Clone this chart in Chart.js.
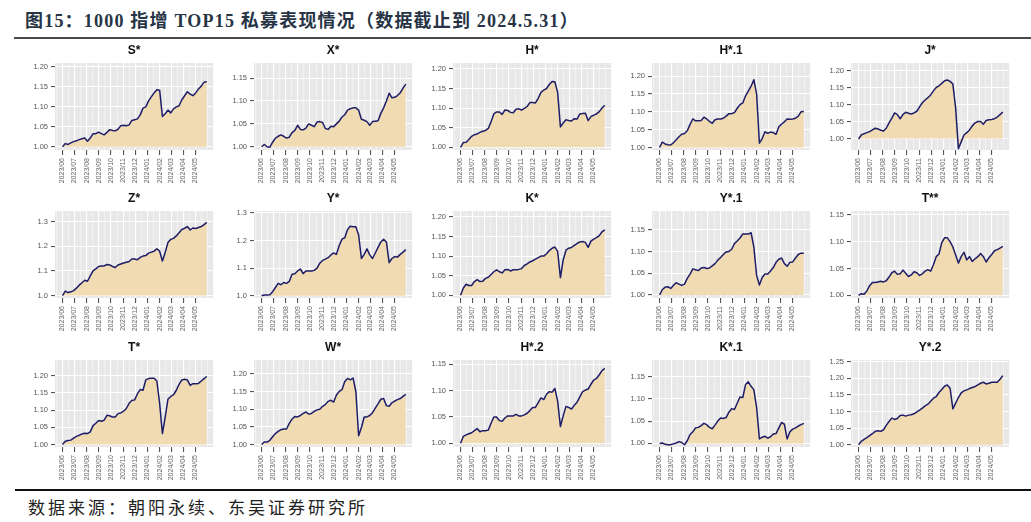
<!DOCTYPE html>
<html>
<head>
<meta charset="utf-8">
<script src="https://cdn.jsdelivr.net/npm/chart.js@4.4.1/dist/chart.umd.min.js"></script>
<style>
body { margin: 0; width: 1031px; height: 522px; background: #fff; position: relative; overflow: hidden; }
#title { position: absolute; left: 25px; top: 6px; font: bold 18px "Liberation Serif", "Noto Sans CJK SC"; color: #263445; white-space: nowrap; letter-spacing: 1.2px; }
#topline { position: absolute; left: 14px; right: 0; top: 37px; height: 2px; background: #4a4a4a; }
#bottomline { position: absolute; left: 15px; right: 0; top: 489px; height: 2px; background: #111; }
#source { position: absolute; left: 28px; top: 494px; font: 17px "Noto Sans CJK SC"; color: #222; letter-spacing: 3px; white-space: nowrap; }
canvas { position: absolute; }
</style>
</head>
<body>
<div id="title">图15：1000 指增 TOP15 私募表现情况（数据截止到 2024.5.31）</div>
<div id="topline"></div>
<div id="grid"></div>
<div id="bottomline"></div>
<div id="source">数据来源：朝阳永续、东吴证券研究所</div>
<script>
// weekly observations, day offset from 2023-06-01
const weekDays = Array.from({length: 53}, (_, i) => i * 7);
const monthDays = [0, 30, 61, 92, 122, 153, 183, 214, 245, 274, 305, 335];
const monthLabels = ['2023/06', '2023/07', '2023/08', '2023/09', '2023/10', '2023/11',
                     '2023/12', '2024/01', '2024/02', '2024/03', '2024/04', '2024/05'];
const minorDays = [-15, 15, 45.5, 76.5, 107, 137.5, 168, 198.5, 229.5, 259.5, 289.5, 320, 350, 366];

const fundNames = ['S*', 'X*', 'H*', 'H*.1', 'J*', 'Z*', 'Y*', 'K*', 'Y*.1', 'T**', 'T*', 'W*', 'H*.2', 'K*.1', 'Y*.2'];

const sStar = [1.000,1.008,1.006,1.010,1.013,1.015,1.018,1.020,1.022,1.014,
               1.022,1.033,1.033,1.037,1.033,1.030,1.036,1.043,1.041,1.040,
               1.044,1.053,1.054,1.053,1.055,1.066,1.068,1.070,1.080,1.097,
               1.100,1.115,1.125,1.135,1.143,1.142,1.076,1.083,1.092,1.085,
               1.095,1.100,1.103,1.118,1.128,1.138,1.132,1.128,1.135,1.145,
               1.152,1.162,1.163];
const xStar = [1.000,1.005,1.000,0.999,1.010,1.019,1.023,1.026,1.023,1.019,
               1.021,1.031,1.036,1.047,1.038,1.037,1.041,1.050,1.047,1.044,
               1.054,1.055,1.053,1.040,1.038,1.045,1.044,1.050,1.056,1.065,
               1.070,1.080,1.083,1.085,1.085,1.080,1.060,1.058,1.055,1.047,
               1.055,1.056,1.057,1.073,1.085,1.100,1.117,1.107,1.108,1.112,
               1.118,1.128,1.137];
const hStar = [1.000,1.012,1.013,1.020,1.028,1.032,1.034,1.038,1.041,1.043,
               1.048,1.065,1.085,1.090,1.090,1.084,1.095,1.094,1.089,1.088,
               1.097,1.098,1.095,1.099,1.104,1.114,1.114,1.113,1.125,1.140,
               1.146,1.150,1.160,1.168,1.167,1.140,1.052,1.062,1.070,1.068,
               1.067,1.073,1.072,1.085,1.086,1.087,1.068,1.078,1.082,1.085,
               1.091,1.100,1.107];
const hStar1 = [1.000,1.015,1.010,1.008,1.007,1.013,1.022,1.030,1.037,1.039,
                1.047,1.065,1.080,1.075,1.075,1.076,1.085,1.080,1.073,1.068,
                1.078,1.080,1.080,1.082,1.088,1.095,1.095,1.098,1.110,1.120,
                1.125,1.145,1.158,1.172,1.190,1.150,1.012,1.025,1.044,1.040,
                1.043,1.042,1.037,1.058,1.066,1.072,1.080,1.079,1.080,1.082,
                1.088,1.100,1.101];
const jStar = [0.998,1.010,1.014,1.017,1.020,1.025,1.030,1.028,1.024,1.022,
               1.030,1.046,1.060,1.075,1.070,1.058,1.070,1.077,1.074,1.072,
               1.075,1.080,1.093,1.105,1.113,1.120,1.128,1.140,1.150,1.155,
               1.162,1.170,1.172,1.168,1.160,1.090,0.970,0.990,1.010,1.017,
               1.025,1.037,1.046,1.050,1.050,1.042,1.053,1.055,1.056,1.058,
               1.063,1.070,1.078];
const zStar = [1.000,1.018,1.012,1.015,1.020,1.030,1.042,1.052,1.062,1.058,
               1.080,1.100,1.108,1.118,1.120,1.120,1.126,1.124,1.118,1.114,
               1.124,1.128,1.132,1.135,1.138,1.148,1.148,1.145,1.155,1.160,
               1.162,1.172,1.176,1.180,1.190,1.180,1.140,1.175,1.215,1.228,
               1.232,1.242,1.255,1.268,1.273,1.280,1.266,1.274,1.272,1.276,
               1.280,1.288,1.297];
const yStar = [1.000,1.003,1.003,1.004,1.015,1.030,1.045,1.040,1.048,1.045,
               1.052,1.078,1.080,1.090,1.097,1.080,1.090,1.090,1.090,1.092,
               1.100,1.118,1.128,1.133,1.138,1.148,1.155,1.150,1.182,1.205,
               1.210,1.240,1.252,1.250,1.250,1.220,1.135,1.150,1.170,1.148,
               1.135,1.155,1.175,1.195,1.205,1.195,1.120,1.135,1.142,1.140,
               1.150,1.158,1.167];
const kStar = [1.000,1.018,1.028,1.025,1.025,1.035,1.040,1.035,1.036,1.043,
               1.046,1.053,1.060,1.065,1.060,1.057,1.065,1.066,1.062,1.065,
               1.065,1.066,1.068,1.076,1.080,1.085,1.088,1.092,1.096,1.100,
               1.100,1.106,1.114,1.120,1.123,1.112,1.045,1.090,1.115,1.120,
               1.122,1.127,1.132,1.136,1.137,1.135,1.122,1.138,1.143,1.147,
               1.152,1.162,1.167];
const yStar1 = [1.000,1.012,1.018,1.019,1.015,1.022,1.028,1.025,1.022,1.025,
                1.038,1.048,1.060,1.058,1.056,1.062,1.063,1.061,1.062,1.067,
                1.072,1.080,1.086,1.093,1.099,1.100,1.105,1.118,1.124,1.131,
                1.140,1.140,1.140,1.143,1.110,1.045,1.023,1.040,1.048,1.048,
                1.055,1.063,1.075,1.082,1.085,1.072,1.066,1.075,1.076,1.085,
                1.093,1.096,1.096];
const tStar2 = [1.000,1.003,1.002,1.008,1.018,1.024,1.024,1.025,1.026,1.025,
                1.027,1.034,1.042,1.045,1.039,1.040,1.047,1.041,1.035,1.038,
                1.044,1.042,1.037,1.040,1.045,1.048,1.045,1.057,1.072,1.077,
                1.098,1.107,1.107,1.100,1.090,1.075,1.060,1.072,1.080,1.066,
                1.072,1.063,1.068,1.072,1.078,1.072,1.062,1.070,1.076,1.083,
                1.085,1.088,1.091];
const tStar = [1.000,1.010,1.012,1.013,1.019,1.024,1.027,1.031,1.033,1.032,
               1.037,1.055,1.062,1.070,1.068,1.071,1.085,1.084,1.080,1.080,
               1.090,1.092,1.097,1.105,1.120,1.128,1.130,1.148,1.160,1.158,
               1.188,1.192,1.193,1.193,1.185,1.120,1.032,1.080,1.132,1.140,
               1.145,1.158,1.175,1.188,1.190,1.188,1.172,1.177,1.177,1.178,
               1.185,1.192,1.198];
const wStar = [1.000,1.007,1.007,1.012,1.022,1.031,1.037,1.042,1.044,1.044,
               1.060,1.072,1.079,1.078,1.082,1.088,1.092,1.086,1.088,1.094,
               1.098,1.100,1.108,1.113,1.122,1.125,1.120,1.140,1.150,1.155,
               1.178,1.187,1.183,1.188,1.150,1.025,1.048,1.078,1.078,1.082,
               1.090,1.103,1.115,1.128,1.130,1.110,1.108,1.118,1.123,1.127,
               1.130,1.136,1.142];
const hStar2 = [1.000,1.013,1.016,1.018,1.020,1.024,1.028,1.022,1.024,1.024,
                1.025,1.038,1.050,1.050,1.043,1.042,1.048,1.052,1.052,1.052,
                1.055,1.052,1.052,1.054,1.057,1.062,1.068,1.068,1.077,1.086,
                1.083,1.093,1.098,1.097,1.104,1.080,1.032,1.052,1.070,1.068,
                1.065,1.072,1.078,1.088,1.098,1.101,1.103,1.112,1.120,1.123,
                1.130,1.138,1.142];
const kStar1 = [1.000,1.001,0.998,0.997,0.997,0.999,1.001,1.004,1.002,0.997,
                1.006,1.020,1.026,1.035,1.036,1.040,1.045,1.042,1.036,1.033,
                1.041,1.050,1.057,1.056,1.058,1.070,1.078,1.076,1.090,1.104,
                1.103,1.132,1.138,1.128,1.120,1.080,1.010,1.014,1.016,1.012,
                1.015,1.021,1.022,1.035,1.047,1.043,1.010,1.026,1.032,1.035,
                1.039,1.042,1.045];
const yStar2 = [1.000,1.010,1.016,1.021,1.027,1.033,1.040,1.042,1.040,1.045,
                1.058,1.070,1.080,1.076,1.079,1.088,1.089,1.086,1.089,1.090,
                1.093,1.099,1.104,1.110,1.117,1.122,1.131,1.140,1.145,1.157,
                1.166,1.176,1.180,1.170,1.108,1.125,1.142,1.156,1.162,1.165,
                1.169,1.172,1.175,1.180,1.185,1.188,1.183,1.185,1.188,1.188,
                1.188,1.197,1.208];

const fundSeries = [sStar, xStar, hStar, hStar1, jStar, zStar, yStar, kStar, yStar1, tStar2, tStar, wStar, hStar2, kStar1, yStar2];

// y axis: [min, max], tick values, decimals
const yLimits = [[0.992, 1.21], [0.993, 1.183], [0.993, 1.215], [0.993, 1.237], [0.966, 1.222],
                 [0.990, 1.343], [0.992, 1.307], [0.993, 1.215], [0.993, 1.193], [0.995, 1.157],
                 [0.993, 1.246], [0.993, 1.239], [0.993, 1.158], [0.992, 1.187], [0.993, 1.255]];
const tick05 = [1.00, 1.05, 1.10, 1.15, 1.20, 1.25];
const tick01 = [1.0, 1.1, 1.2, 1.3];
const yDecimals = [2, 2, 2, 2, 2, 1, 1, 2, 2, 2, 2, 2, 2, 2, 2];

const panelBg = {
    id: 'panelBg',
    beforeDraw(chart) {
        const a = chart.chartArea, c = chart.ctx;
        c.save();
        c.fillStyle = '#e8e8e8';
        c.fillRect(a.left, a.top, a.right - a.left, a.bottom - a.top);
        c.restore();
    }
};

const panelTitle = {
    id: 'panelTitle',
    afterDraw(chart, args, opts) {
        const a = chart.chartArea, c = chart.ctx;
        c.save();
        c.font = 'bold 12px "Liberation Sans", Arial';
        c.fillStyle = '#111';
        c.textAlign = 'center';
        c.textBaseline = 'middle';
        c.fillText(opts.text, (a.left + a.right) / 2, a.top - 12);
        c.restore();
    }
};

const rowTops = [43, 191, 340];
const holder = document.getElementById('grid');

fundNames.forEach((name, k) => {
    const col = k % 5, row = Math.floor(k / 5);
    const cv = document.createElement('canvas');
    cv.width = 206; cv.height = 150;
    cv.style.left = (13 + 199 * col) + 'px';
    cv.style.top = rowTops[row] + 'px';
    holder.appendChild(cv);

    const [yMin, yMax] = yLimits[k];
    const dec = yDecimals[k];
    const yTicks = (dec === 1 ? tick01 : tick05).filter(v => v <= yMax);

    new Chart(cv.getContext('2d'), {
        type: 'line',
        data: {
            datasets: [{
                data: fundSeries[k].map((v, i) => ({x: weekDays[i], y: v})),
                borderColor: '#1d1d68',
                borderWidth: 1.5,
                backgroundColor: '#f1dbb2',
                fill: {value: 1},
                pointRadius: 0,
                tension: 0,
                borderJoinStyle: 'round'
            }]
        },
        options: {
            responsive: false,
            animation: false,
            devicePixelRatio: 1,
            layout: {padding: {top: 20, right: 0, bottom: 0, left: 0}},
            plugins: {
                legend: {display: false},
                tooltip: {enabled: false},
                panelTitle: {text: name}
            },
            scales: {
                x: {
                    type: 'linear',
                    min: -19, max: 380,
                    afterBuildTicks: s => {
                        const t = monthDays.map((d, i) => ({value: d, label: monthLabels[i], isMonth: true}));
                        minorDays.forEach(d => t.push({value: d, label: '', isMonth: false}));
                        t.sort((a, b) => a.value - b.value);
                        s.ticks = t;
                    },
                    afterFit: s => { s.height = 43; },
                    border: {display: false},
                    grid: {
                        color: c => (c.tick && c.tick.isMonth) ? '#ffffff' : 'rgba(255,255,255,0.75)',
                        lineWidth: c => (c.tick && c.tick.isMonth) ? 1.1 : 0.6,
                        tickColor: c => (c.tick && c.tick.isMonth) ? '#555' : 'rgba(0,0,0,0)',
                        tickLength: 5
                    },
                    ticks: {
                        autoSkip: false,
                        minRotation: 90, maxRotation: 90,
                        padding: 3,
                        font: {size: 7, family: '"Liberation Sans", Arial'},
                        color: '#666',
                        callback: (v, i, ticks) => ticks[i].label
                    }
                },
                y: {
                    min: yMin, max: yMax,
                    afterBuildTicks: s => { s.ticks = yTicks.map(v => ({value: v})); },
                    afterFit: s => { s.width = 42; },
                    border: {display: false},
                    grid: {color: '#ffffff', lineWidth: 1.1, tickColor: '#555', tickLength: 4},
                    ticks: {
                        padding: 3,
                        font: {size: 7.5, family: '"Liberation Sans", Arial'},
                        color: '#555',
                        callback: v => Number(v).toFixed(dec)
                    }
                }
            }
        },
        plugins: [panelBg, panelTitle]
    });
});
</script>
</body>
</html>
